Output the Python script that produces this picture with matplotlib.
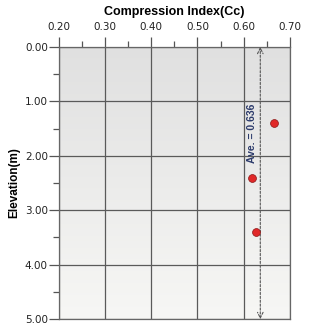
import matplotlib
matplotlib.use("Agg")
import numpy as np
import matplotlib.pyplot as plt
from matplotlib.colors import LinearSegmentedColormap
from matplotlib.ticker import MultipleLocator

# data
cc = [0.665, 0.619, 0.627]
elev = [1.4, 2.4, 3.4]
ave = 0.636
x_ticks = [0.20, 0.30, 0.40, 0.50, 0.60, 0.70]
y_ticks = [0.0, 1.0, 2.0, 3.0, 4.0, 5.0]

BOLD_FONT = ["Liberation Sans", "DejaVu Sans"]

fig = plt.figure(figsize=(3.1, 3.28), dpi=100)
ax = fig.add_axes([0.190, 0.027, 0.745, 0.830])

# background gradient (gray at top -> near white at bottom)
grad = np.linspace(0, 1, 256).reshape(-1, 1)
bg = LinearSegmentedColormap.from_list("bg", ["#e0e0e0", "#f7f7f5"])
ax.imshow(grad, extent=[0.2, 0.7, 5.0, 0.0], cmap=bg, aspect="auto",
          interpolation="bilinear", zorder=0)

ax.set_xlim(0.2, 0.7)
ax.set_ylim(5.0, 0.0)

ax.xaxis.tick_top()
ax.xaxis.set_label_position("top")
ax.set_xticks(x_ticks)
ax.set_xticklabels([f"{v:.2f}" for v in x_ticks])
ax.set_yticks(y_ticks)
ax.set_yticklabels([f"{v:.2f}" for v in y_ticks])
ax.xaxis.set_minor_locator(MultipleLocator(0.05))
ax.yaxis.set_minor_locator(MultipleLocator(0.5))

ax.tick_params(which="major", labelsize=7.5, labelcolor="#222222", color="#555555",
               direction="out", length=7, width=0.9, pad=1)
ax.tick_params(axis="x", which="major", pad=4)
ax.tick_params(which="minor", direction="out", length=4, width=0.9, color="#555555")
ax.tick_params(axis="x", which="both", top=True, bottom=False)

ax.grid(True, which="major", color="#5a5a5a", linewidth=0.9, zorder=1)
for s in ax.spines.values():
    s.set_color("#666666")
    s.set_linewidth(0.9)

ax.set_xlabel("Compression Index(Cc)", fontsize=9, fontweight="bold",
              family=BOLD_FONT, labelpad=5)
ax.set_ylabel("Elevation(m)", fontsize=8.5, fontweight="bold",
              family=BOLD_FONT, labelpad=3)

# average line with arrows at both ends
ax.annotate("", xy=(ave, 0.0), xytext=(ave, 5.0),
            arrowprops=dict(arrowstyle="<->", linestyle=(0, (2, 1.5)), color="#555555",
                            linewidth=0.8, shrinkA=0, shrinkB=0), zorder=3)
ax.text(ave - 0.008, 1.58, f"Ave. = {ave:.3f}", rotation=90, ha="right", va="center",
        fontsize=7.5, fontweight="bold", color="#2b3a6b",
        family=BOLD_FONT, zorder=4)

ax.scatter(cc, elev, s=32, color="#e02828", edgecolors="#8a1515", linewidths=0.5, zorder=5)

fig.savefig("out.png", dpi=100)
